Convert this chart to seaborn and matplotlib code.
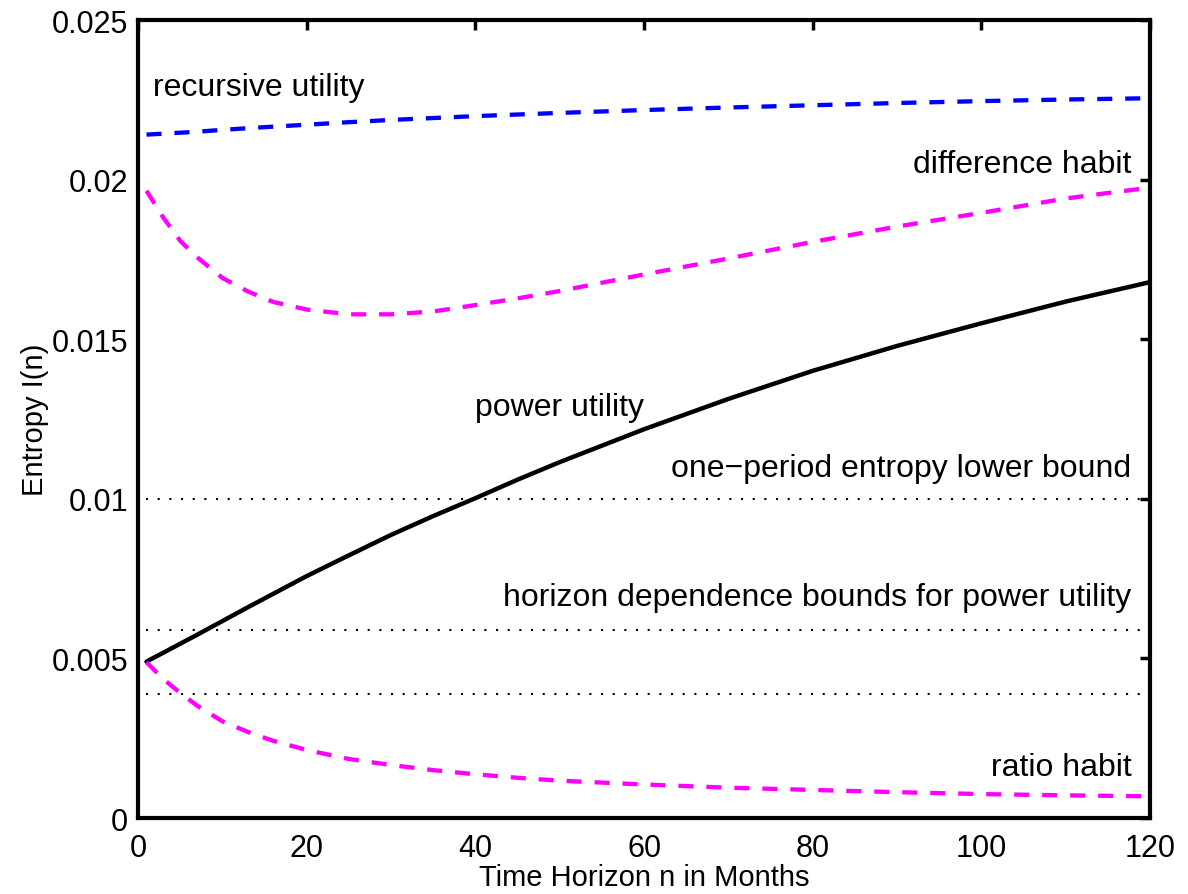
import numpy as np
import pandas as pd
import matplotlib
matplotlib.use("Agg")
import matplotlib.pyplot as plt
import seaborn as sns

# values
months = [1, 3, 5, 7, 10, 13, 16, 20, 25, 30, 35, 40, 45, 50, 60, 70, 80, 90, 100, 110, 120]

recursive_utility = [0.02141, 0.02144, 0.02147, 0.02150, 0.02156, 0.02161, 0.02166, 0.02172,
                     0.02180, 0.02187, 0.02193, 0.02199, 0.02204, 0.02209, 0.02218, 0.02226,
                     0.02233, 0.02240, 0.02246, 0.02251, 0.02255]

difference_habit = [0.01965, 0.01881, 0.01808, 0.01757, 0.01692, 0.01650, 0.01617, 0.01593,
                    0.01578, 0.01578, 0.01587, 0.01607, 0.01628, 0.01651, 0.01703, 0.01753,
                    0.01805, 0.01853, 0.01896, 0.01941, 0.01975]

power_utility = [0.00490, 0.00518, 0.00546, 0.00574, 0.00617, 0.00660, 0.00702, 0.00758,
                 0.00823, 0.00887, 0.00946, 0.01002, 0.01060, 0.01115, 0.01218, 0.01313,
                 0.01401, 0.01479, 0.01550, 0.01618, 0.01679]

ratio_habit = [0.00488, 0.00435, 0.00392, 0.00352, 0.00303, 0.00270, 0.00242, 0.00213,
               0.00185, 0.00166, 0.00150, 0.00137, 0.00126, 0.00117, 0.00105, 0.00095,
               0.00088, 0.00081, 0.00075, 0.00071, 0.00068]

one_period_bound = 0.01
horizon_bounds = [0.0059, 0.0039]

x_ticks = [0, 20, 40, 60, 80, 100, 120]
y_ticks = [0, 0.005, 0.01, 0.015, 0.02, 0.025]
y_tick_labels = ["0", "0.005", "0.01", "0.015", "0.02", "0.025"]

# style
sns.set_style("white")
plt.rcParams["font.family"] = ["Liberation Sans", "DejaVu Sans"]
plt.rcParams["text.color"] = "black"
plt.rcParams["axes.labelcolor"] = "black"

fig = plt.figure(figsize=(11.88, 8.95), dpi=100)
ax = fig.add_axes([0.1162, 0.0849, 0.8519, 0.8916])

df = pd.DataFrame({
    "n": months,
    "recursive": recursive_utility,
    "difference": difference_habit,
    "power": power_utility,
    "ratio": ratio_habit,
})

dash = (3.5, 3.0)
sns.lineplot(data=df, x="n", y="recursive", ax=ax, color="#0000ff", lw=3.1)
sns.lineplot(data=df, x="n", y="difference", ax=ax, color="#ff00ff", lw=3.1)
sns.lineplot(data=df, x="n", y="power", ax=ax, color="black", lw=3.2)
sns.lineplot(data=df, x="n", y="ratio", ax=ax, color="#ff00ff", lw=3.1)
ax.lines[0].set_dashes(dash)
ax.lines[1].set_dashes(dash)
ax.lines[3].set_dashes(dash)

# bounds, dotted
for b in [one_period_bound] + horizon_bounds:
    sns.lineplot(x=[months[0], months[-1]], y=[b, b], ax=ax, color="black", lw=1.5)
    ax.lines[-1].set_dashes((1, 4.6))

# curve labels
fs = 23
ax.text(1.8, 0.0229, "recursive utility", fontsize=fs, va="center", ha="left")
ax.text(117.8, 0.02049, "difference habit", fontsize=fs, va="center", ha="right")
ax.text(39.9, 0.01288, "power utility", fontsize=fs, va="center", ha="left")
ax.text(117.8, 0.01097, "one\u2212period entropy lower bound", fontsize=fs, va="center", ha="right")
ax.text(117.8, 0.00692, "horizon dependence bounds for power utility", fontsize=fs, va="center", ha="right")
ax.text(117.8, 0.0016, "ratio habit", fontsize=fs, va="center", ha="right")

ax.set_xlim(0, 120)
ax.set_ylim(0, 0.025)
ax.set_xticks(x_ticks)
ax.set_yticks(y_ticks)
ax.set_yticklabels(y_tick_labels)
ax.tick_params(direction="in", length=7, width=2.5, top=True, right=True,
               labelsize=22, colors="black")
ax.tick_params(axis="x", pad=11)
ax.tick_params(axis="y", pad=7)

for s in ax.spines.values():
    s.set_linewidth(3)
    s.set_color("black")

ax.set_xlabel("Time Horizon n in Months", fontsize=21, labelpad=0)
ax.set_ylabel("Entropy I(n)", fontsize=21, labelpad=2)

fig.savefig("out.png", dpi=100)
